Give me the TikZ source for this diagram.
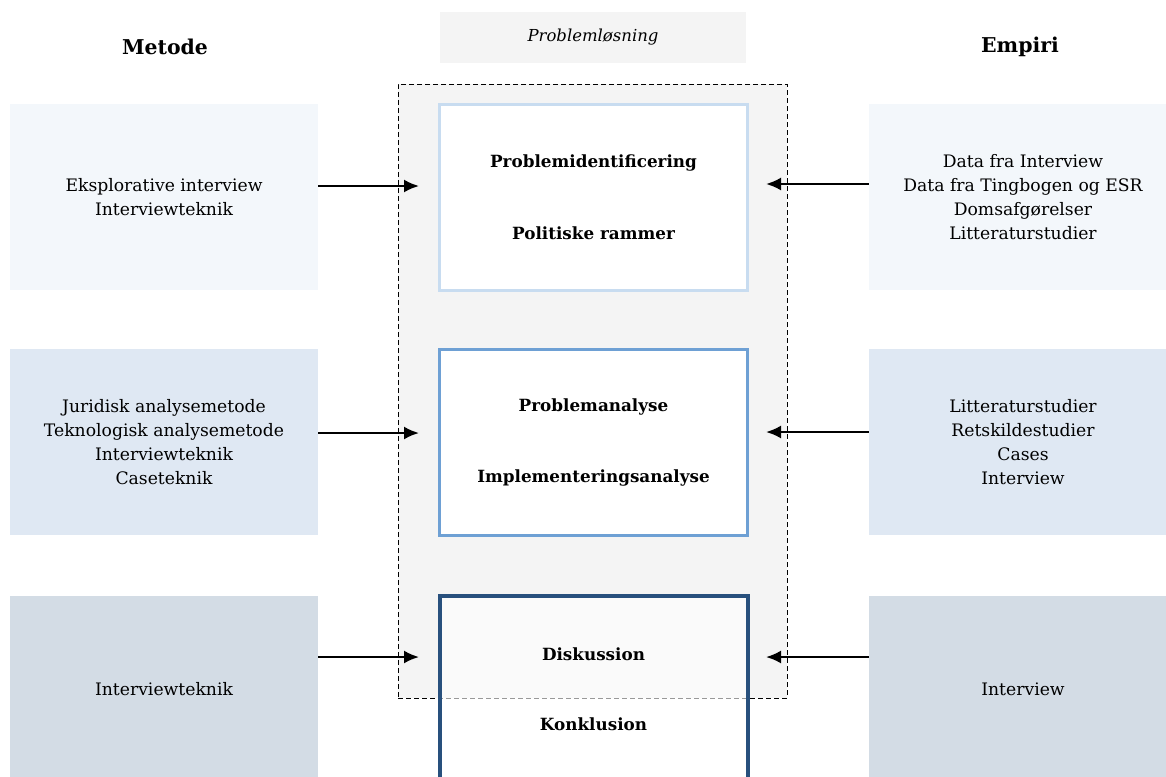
\documentclass[tikz,border=0pt]{standalone}
\usepackage{fontspec}
\setmainfont{DejaVu Serif}
\usepackage{xcolor}
\usetikzlibrary{arrows.meta,positioning}

\definecolor{paleblue}{RGB}{243,247,251}
\definecolor{midblue}{RGB}{223,232,243}
\definecolor{greyblue}{RGB}{211,220,229}
\definecolor{lightgrey}{RGB}{244,244,244}
\definecolor{lineone}{RGB}{200,220,240}
\definecolor{linetwo}{RGB}{110,160,212}
\definecolor{linethree}{RGB}{40,80,125}

\begin{document}
\begin{tikzpicture}[
    x=1pt, y=-1pt,
    every node/.style={font=\fontsize{17.2}{24}\selectfont},
    panel/.style={rectangle, minimum width=308pt, minimum height=186pt, align=center, inner sep=0pt},
    phase/.style={panel, fill=white, line width=3pt, font=\fontsize{16.8}{24}\selectfont\bfseries},
    heading/.style={font=\fontsize{20.4}{24}\selectfont\bfseries},
    arrow/.style={-{Latex[length=15pt,width=13pt]}, line width=2.2pt}
]
\useasboundingbox (0,0) rectangle (1166,776);

% Headings
\node[heading] (metode) at (165,47) {Metode};
\node[heading] (empiri) at (1020,47) {Empiri};
\node[rectangle, fill=lightgrey, minimum width=306pt, minimum height=51pt,
      font=\fontsize{16.5}{24}\selectfont\itshape] (problemloesning) at (593,37.5) {Problemløsning};

% Problem solving frame
\node[rectangle, draw, line width=1pt, dash pattern=on 5pt off 3pt, fill=lightgrey,
      minimum width=389pt, minimum height=614pt] (frame) at (592.5,391) {};

% Metode column
\node[panel, fill=paleblue] (metode_1) at (164,197) {Eksplorative interview\\Interviewteknik};
\node[panel, fill=midblue] (metode_2) at (164,442) {Juridisk analysemetode\\Teknologisk analysemetode\\Interviewteknik\\Caseteknik};
\node[panel, fill=greyblue] (metode_3) at (164,689) {Interviewteknik};

% Phases
\node[phase, draw=lineone] (identificering) at (593.5,197) {Problemidentificering\\[48pt]Politiske rammer};
\node[phase, draw=linetwo] (analyse) at (593.5,442) {Problemanalyse\\[47pt]Implementeringsanalyse};
\node[phase, draw=linethree, line width=4pt, fill opacity=0.6, draw opacity=1, text opacity=1] (diskussion) at (593.5,689) {Diskussion\\[46pt]Konklusion};

% Empiri column
\node[panel, fill=paleblue] (empiri_1) at (1023,197) {Data fra Interview\\Data fra Tingbogen og ESR\\Domsafgørelser\\Litteraturstudier};
\node[panel, fill=midblue] (empiri_2) at (1023,442) {Litteraturstudier\\Retskildestudier\\Cases\\Interview};
\node[panel, fill=greyblue] (empiri_3) at (1023,689) {Interview};

% Arrow ends
\coordinate (in_1) at (419,186);
\coordinate (in_2) at (419,433);
\coordinate (in_3) at (419,657);
\coordinate (out_1) at (766,184);
\coordinate (out_2) at (766,432);
\coordinate (out_3) at (766,657);

% Flow
\draw[arrow] (metode_1.east |- in_1) -- (in_1);
\draw[arrow] (metode_2.east |- in_2) -- (in_2);
\draw[arrow] (metode_3.east |- in_3) -- (in_3);
\draw[arrow] (empiri_1.west |- out_1) -- (out_1);
\draw[arrow] (empiri_2.west |- out_2) -- (out_2);
\draw[arrow] (empiri_3.west |- out_3) -- (out_3);

\end{tikzpicture}
\end{document}
